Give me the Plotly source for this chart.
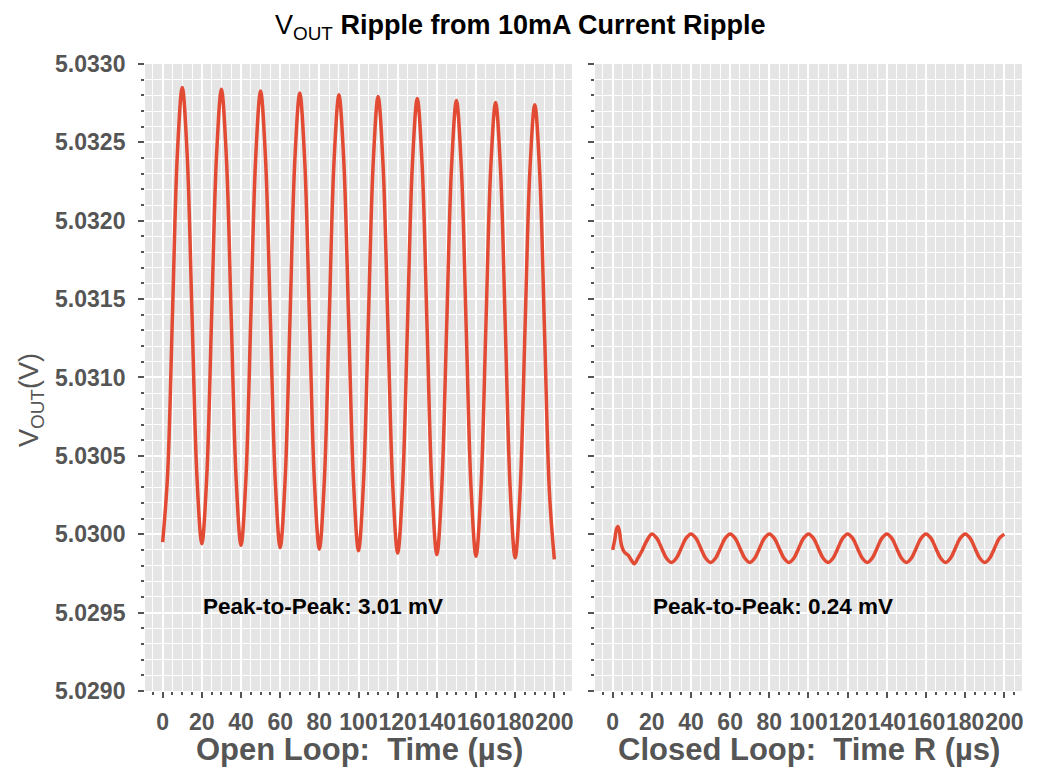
import plotly.graph_objects as go

# Open loop: time (µs) and output voltage (V)
open_t = [
    0, 2.5, 5, 7.5, 10, 12.5, 15, 17.5,
    20, 22.5, 25, 27.5, 30, 32.5, 35, 37.5,
    40, 42.5, 45, 47.5, 50, 52.5, 55, 57.5,
    60, 62.5, 65, 67.5, 70, 72.5, 75, 77.5,
    80, 82.5, 85, 87.5, 90, 92.5, 95, 97.5,
    100, 102.5, 105, 107.5, 110, 112.5, 115, 117.5,
    120, 122.5, 125, 127.5, 130, 132.5, 135, 137.5,
    140, 142.5, 145, 147.5, 150, 152.5, 155, 157.5,
    160, 162.5, 165, 167.5, 170, 172.5, 175, 177.5,
    180, 182.5, 185, 187.5, 190, 192.5, 195, 197.5,
    200,
]
open_v = [
    5.029950, 5.030375, 5.031400, 5.032425, 5.032850, 5.032424, 5.031395, 5.030366,
    5.029940, 5.030364, 5.031389, 5.032414, 5.032838, 5.032412, 5.031384, 5.030356,
    5.029930, 5.030354, 5.031379, 5.032403, 5.032827, 5.032401, 5.031371, 5.030341,
    5.029915, 5.030340, 5.031365, 5.032390, 5.032815, 5.032389, 5.031360, 5.030331,
    5.029905, 5.030329, 5.031354, 5.032379, 5.032803, 5.032377, 5.031349, 5.030321,
    5.029895, 5.030319, 5.031344, 5.032368, 5.032792, 5.032366, 5.031336, 5.030306,
    5.029880, 5.030305, 5.031330, 5.032355, 5.032780, 5.032354, 5.031325, 5.030296,
    5.029870, 5.030294, 5.031319, 5.032343, 5.032767, 5.032341, 5.031314, 5.030286,
    5.029860, 5.030284, 5.031308, 5.032331, 5.032755, 5.032330, 5.031303, 5.030275,
    5.029850, 5.030273, 5.031295, 5.032317, 5.032740, 5.032315, 5.031290, 5.030265,
    5.029840,
]

# Closed loop: time (µs) and output voltage (V)
closed_t = [
    0, 1, 2, 2.7, 3.5, 4.5, 6, 8, 9.5, 11, 13, 15, 17.5,
    20, 22.5, 25, 27.5, 30, 32.5, 35, 37.5,
    40, 42.5, 45, 47.5, 50, 52.5, 55, 57.5,
    60, 62.5, 65, 67.5, 70, 72.5, 75, 77.5,
    80, 82.5, 85, 87.5, 90, 92.5, 95, 97.5,
    100, 102.5, 105, 107.5, 110, 112.5, 115, 117.5,
    120, 122.5, 125, 127.5, 130, 132.5, 135, 137.5,
    140, 142.5, 145, 147.5, 150, 152.5, 155, 157.5,
    160, 162.5, 165, 167.5, 170, 172.5, 175, 177.5,
    180, 182.5, 185, 187.5, 190, 192.5, 195, 197.5,
    200,
]
closed_v = [
    5.029900, 5.029960, 5.030035, 5.030050, 5.030015, 5.029930, 5.029885, 5.029865,
    5.029835, 5.029812, 5.029850, 5.029895, 5.029960,
    5.030002, 5.029975, 5.029911, 5.029847, 5.029820, 5.029847, 5.029911, 5.029975,
    5.030002, 5.029975, 5.029911, 5.029847, 5.029820, 5.029847, 5.029911, 5.029975,
    5.030002, 5.029975, 5.029911, 5.029847, 5.029820, 5.029847, 5.029911, 5.029975,
    5.030002, 5.029975, 5.029911, 5.029847, 5.029820, 5.029847, 5.029911, 5.029975,
    5.030002, 5.029975, 5.029911, 5.029847, 5.029820, 5.029847, 5.029911, 5.029975,
    5.030002, 5.029975, 5.029911, 5.029847, 5.029820, 5.029847, 5.029911, 5.029975,
    5.030002, 5.029975, 5.029911, 5.029847, 5.029820, 5.029847, 5.029911, 5.029975,
    5.030002, 5.029975, 5.029911, 5.029847, 5.029820, 5.029847, 5.029911, 5.029975,
    5.030002, 5.029975, 5.029911, 5.029847, 5.029820, 5.029847, 5.029911, 5.029975,
    5.030000,
]

y_ticks = [5.0290, 5.0295, 5.0300, 5.0305, 5.0310, 5.0315, 5.0320, 5.0325, 5.0330]
x_ticks = [0, 20, 40, 60, 80, 100, 120, 140, 160, 180, 200]
ptp_labels = ["Peak-to-Peak: 3.01 mV", "Peak-to-Peak: 0.24 mV"]

LINE = "#E24A33"
GRAY = "#555555"
FONT = "Liberation Sans"

fig = go.Figure()
fig.add_trace(go.Scatter(
    x=open_t, y=open_v, mode="lines", xaxis="x", yaxis="y",
    line=dict(color=LINE, width=3.5, shape="spline", smoothing=1.0),
))
fig.add_trace(go.Scatter(
    x=closed_t, y=closed_v, mode="lines", xaxis="x2", yaxis="y2",
    line=dict(color=LINE, width=3.5, shape="spline", smoothing=1.0),
))


def x_axis(domain, anchor):
    return dict(
        domain=domain, anchor=anchor, range=[-9, 209], automargin=False,
        tickvals=x_ticks, tickangle=0, ticks="outside", ticklen=6, tickwidth=1.5,
        tickcolor=GRAY, ticklabelstandoff=4,
        tickfont=dict(family=FONT, size=23, color=GRAY, weight="bold"),
        showgrid=True, gridcolor="white", gridwidth=1.5,
        minor=dict(dtick=5, ticks="outside", ticklen=3, tickcolor=GRAY,
                   showgrid=True, gridcolor="white", gridwidth=0.8),
        zeroline=False, showline=False,
    )


def y_axis(domain, anchor, labels):
    return dict(
        domain=domain, anchor=anchor, range=[5.0290, 5.0330], automargin=False,
        tickvals=y_ticks, ticktext=[f"{v:.4f}" for v in y_ticks] if labels else None,
        showticklabels=labels,
        ticks="outside", ticklen=6, tickwidth=1.5, tickcolor=GRAY,
        ticklabelstandoff=8,
        tickfont=dict(family=FONT, size=23, color=GRAY, weight="bold"),
        showgrid=True, gridcolor="white", gridwidth=1.5,
        minor=dict(dtick=0.0001, ticks="outside", ticklen=3, tickcolor=GRAY,
                   showgrid=True, gridcolor="white", gridwidth=0.8),
        zeroline=False, showline=False,
    )


fig.update_layout(
    width=1039, height=784,
    margin=dict(l=0, r=0, t=0, b=0, autoexpand=False),
    paper_bgcolor="white", plot_bgcolor="#E5E5E5",
    showlegend=False,
    xaxis=x_axis([0.1396, 0.5505], "y"),
    xaxis2=x_axis([0.5727, 0.9836], "y2"),
    yaxis=y_axis([0.1186, 0.9184], "x", True),
    yaxis2=y_axis([0.1186, 0.9184], "x2", False),
)
fig.update_layout(yaxis2=dict(matches="y"))


def paper_text(text, x, y, size, color, angle=0):
    return dict(text=text, textangle=angle, xref="paper", yref="paper",
                x=x / 1039, y=1 - y / 784, xanchor="center", yanchor="middle",
                showarrow=False, font=dict(family=FONT, size=size, color=color))


annotations = [
    paper_text("V<sub>OUT</sub> <b>Ripple from 10mA Current Ripple</b>", 520, 27, 27, "black"),
    paper_text("V<sub>OUT</sub>(V)", 31, 400, 27, GRAY, angle=-90),
    paper_text("<b>Open Loop:  Time (µs)</b>", 359, 749, 31, GRAY),
    paper_text("<b>Closed Loop:  Time R (µs)</b>", 809, 749, 31, GRAY),
    dict(text=f"<b>{ptp_labels[0]}</b>", xref="x", yref="y", x=82, y=5.02954,
         xanchor="center", yanchor="middle",
         showarrow=False, font=dict(family=FONT, size=22.5, color="black")),
    dict(text=f"<b>{ptp_labels[1]}</b>", xref="x2", yref="y2", x=82, y=5.02954,
         xanchor="center", yanchor="middle",
         showarrow=False, font=dict(family=FONT, size=22.5, color="black")),
]
fig.update_layout(annotations=annotations)

# the page's default body margin would shift the figure by 8px
fig.write_html("out.html", config={"displayModeBar": False},
               post_script="document.body.style.margin = '0px';")
